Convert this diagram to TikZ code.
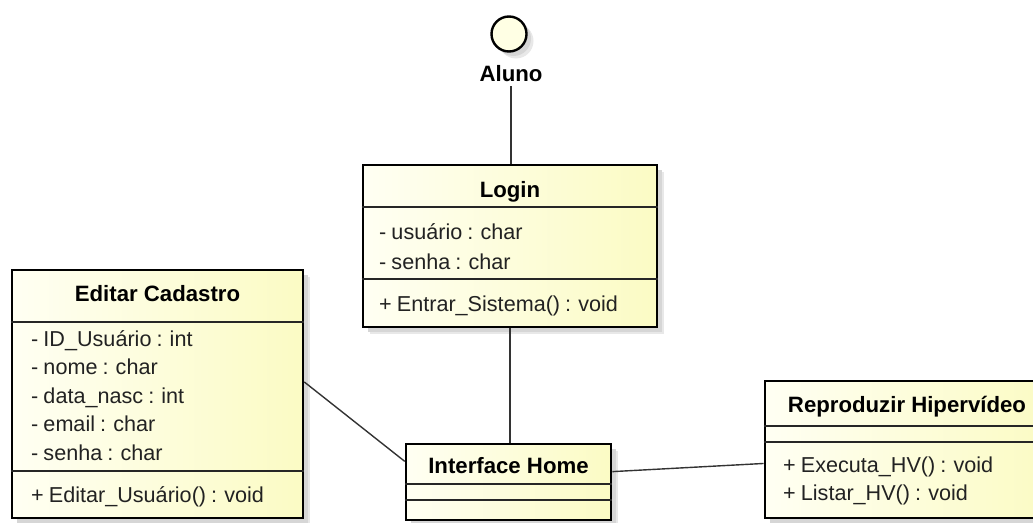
\documentclass[tikz,border=0pt]{standalone}
\usepackage{fontspec}
\setmainfont[WordSpace=0.85]{Liberation Sans}
\newfontfamily\titlefont{Liberation Sans}
\usetikzlibrary{calc,shadows}
\definecolor{boxlight}{HTML}{FFFFF3}
\definecolor{boxdeep}{HTML}{FBFBC4}
\definecolor{actorfill}{HTML}{FFFFE4}
\definecolor{linkgray}{HTML}{333333}
\definecolor{textgray}{HTML}{222222}
\tikzset{
  softshadow/.style={
    preaction={fill=black!9, transform canvas={shift={(7pt,-7pt)}}},
    preaction={fill=black!16, transform canvas={shift={(4.5pt,-4.5pt)}}}},
  classbox/.style={rectangle, draw=black, line width=2.6pt, inner sep=0pt,
    softshadow, left color=boxlight, right color=boxdeep},
  compline/.style={draw=black!85, line width=1.3pt},
  link/.style={draw=linkgray, line width=1.4pt},
  attr/.style={anchor=base west, inner sep=0pt, text=textgray,
    font=\fontsize{21.6}{26}\selectfont},
  ctitle/.style={anchor=base, inner sep=0pt,
    font=\titlefont\fontsize{22.2}{26}\selectfont\bfseries},
}
\begin{document}
\begin{tikzpicture}[x=1pt,y=-1pt]
  \useasboundingbox (0,0) rectangle (1033,522);
  \clip (0,0) rectangle (1033,522);

  % actor
  \node[circle, draw=black, line width=2.4pt, fill=actorfill, minimum size=35pt,
        inner sep=0pt, softshadow] (aluno) at (509,34) {};
  \node[ctitle] (alunolabel) at (511,81) {Aluno};
  \coordinate (alunofoot) at (511,86);

  % class boxes
  \node[classbox, minimum width=291pt, minimum height=248pt] (editar) at (157.5,394) {};
  \node[classbox, minimum width=294pt, minimum height=162pt] (login) at (510,246) {};
  \node[classbox, minimum width=205pt, minimum height=76pt] (home) at (508.5,482) {};
  \node[classbox, minimum width=284pt, minimum height=137pt] (repro) at (907,449.5) {};

  % compartment separators
  \draw[compline] (editar.west |- 0,322) -- (editar.east |- 0,322);
  \draw[compline] (editar.west |- 0,471) -- (editar.east |- 0,471);
  \draw[compline] (login.west |- 0,207) -- (login.east |- 0,207);
  \draw[compline] (login.west |- 0,279) -- (login.east |- 0,279);
  \draw[compline] (home.west |- 0,484) -- (home.east |- 0,484);
  \draw[compline] (home.west |- 0,500) -- (home.east |- 0,500);
  \draw[compline] (repro.west |- 0,426) -- (repro.east |- 0,426);
  \draw[compline] (repro.west |- 0,442) -- (repro.east |- 0,442);

  % Login
  \node[ctitle] (logint) at (510,197) {Login};
  \node[attr] (login1) at (379,239) {- usuário : char};
  \node[attr] (login2) at (379,269) {- senha : char};
  \node[attr] (login3) at (379,311) {+ Entrar\_Sistema() : void};

  % Editar Cadastro
  \node[ctitle] (editart) at (157.5,301) {Editar Cadastro};
  \node[attr] (editar1) at (31,346) {- ID\_Usuário : int};
  \node[attr] (editar2) at (31,374.5) {- nome : char};
  \node[attr] (editar3) at (31,403) {- data\_nasc : int};
  \node[attr] (editar4) at (31,431) {- email : char};
  \node[attr] (editar5) at (31,460) {- senha : char};
  \node[attr] (editar6) at (31,502) {+ Editar\_Usuário() : void};

  % Interface Home
  \node[ctitle] (homet) at (508.5,473) {Interface Home};

  % Reproduzir Hipervídeo
  \node[ctitle] (reprot) at (907,412) {Reproduzir Hipervídeo};
  \node[attr] (repro1) at (783,472) {+ Executa\_HV() : void};
  \node[attr] (repro2) at (783,500) {+ Listar\_HV() : void};

  % associations
  \draw[link] (alunofoot) -- (alunofoot |- login.north);
  \draw[link] (login.south) -- (login.south |- home.north);
  \draw[link] ($(editar.north east)!0.452!(editar.south east)$)
           -- ($(home.north west)!0.237!(home.south west)$);
  \draw[link] ($(home.north east)!0.368!(home.south east)$)
           -- ($(repro.north west)!0.6!(repro.south west)$);
\end{tikzpicture}
\end{document}
